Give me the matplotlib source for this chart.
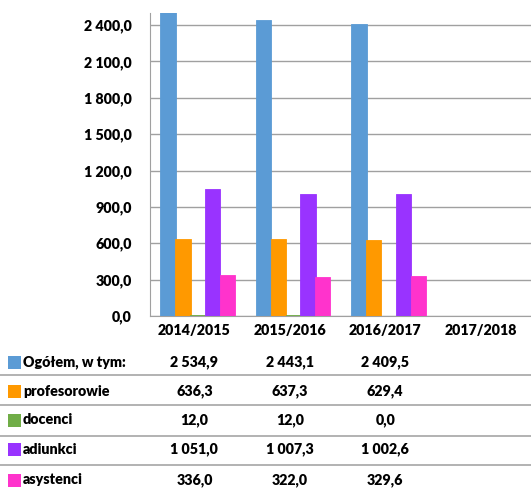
import matplotlib
matplotlib.use("Agg")
import matplotlib.pyplot as plt
from matplotlib.transforms import blended_transform_factory
from matplotlib.patches import Rectangle
import numpy as np

plt.rcParams['font.family'] = ['Lato', 'DejaVu Sans']

years = ["2014/2015", "2015/2016", "2016/2017", "2017/2018"]
series_names = ["Ogółem, w tym:", "profesorowie", "docenci", "adiunkci", "asystenci"]
ogolem = [2534.9, 2443.1, 2409.5, None]
profesorowie = [636.3, 637.3, 629.4, None]
docenci = [12.0, 12.0, 0.0, None]
adiunkci = [1051.0, 1007.3, 1002.6, None]
asystenci = [336.0, 322.0, 329.6, None]
series_values = [ogolem, profesorowie, docenci, adiunkci, asystenci]
colors = ["#5B9BD5", "#FF9900", "#70AD47", "#9933FF", "#FF33CC"]
y_ticks = [0, 300, 600, 900, 1200, 1500, 1800, 2100, 2400]

W, H = 531, 488
FW = 'heavy'
FS = 10.3
fig = plt.figure(figsize=(W / 100, H / 100), dpi=100)

def fy(py):
    return 1 - py / H

ax_left, ax_right, ax_top, ax_bottom = 150, 531.75, 13, 316
ax = fig.add_axes([ax_left / W, fy(ax_bottom), (ax_right - ax_left) / W, (ax_bottom - ax_top) / H])


def pl_fmt(v):
    s = f"{v:,.1f}"
    return s.replace(",", " ").replace(".", ",")


x = np.arange(len(years))
step = 0.155
width = 0.16
for i, (vals, col) in enumerate(zip(series_values, colors)):
    xs = [xi + (i - 2) * step for xi, v in zip(x, vals) if v is not None]
    hs = [v for v in vals if v is not None]
    ax.bar(xs, hs, width=width, color=col, edgecolor=col, linewidth=0.6, zorder=3)

ax.set_xlim(-0.5, len(years) - 0.5)
ax.set_ylim(0, 2500)
ax.set_yticks(y_ticks)
ax.set_yticklabels([pl_fmt(t) for t in y_ticks], fontsize=FS, fontweight=FW)
ax.tick_params(axis='y', length=0, pad=13)
ax.set_xticks([])
ax.grid(axis='y', color="#A0A0A0", linewidth=1.0, zorder=0)
for side in ["top", "right"]:
    ax.spines[side].set_visible(False)
ax.spines["left"].set_color("#A0A0A0")
ax.spines["bottom"].set_color("#A0A0A0")
ax.spines["bottom"].set_zorder(1)

# data table beneath the plot
tr = blended_transform_factory(ax.transData, fig.transFigure)
shift = -0.035
for xi, yr in zip(x, years):
    fig.text(xi + shift, fy(331), yr, transform=tr, ha='center', va='center',
             fontsize=FS, fontweight=FW)

row_y = [362, 391, 420, 449, 480]
sep_y = [375, 405, 436, 465]
for py in sep_y:
    fig.add_artist(plt.Line2D([0, 1], [fy(py), fy(py)], transform=fig.transFigure,
                              color="#A6A6A6", linewidth=1.2))

for name, vals, col, py in zip(series_names, series_values, colors, row_y):
    fig.add_artist(Rectangle((8 / W, fy(py + 6.5)), 13 / W, 13 / H,
                             transform=fig.transFigure, facecolor=col,
                             edgecolor="none"))
    fig.text(23 / W, fy(py), name, ha='left', va='center', fontsize=FS,
             fontweight=FW)
    for xi, v in zip(x, vals):
        if v is None:
            continue
        fig.text(xi + shift, fy(py), pl_fmt(v), transform=tr, ha='center',
                 va='center', fontsize=FS, fontweight=FW)

fig.savefig("out.png", dpi=100)
